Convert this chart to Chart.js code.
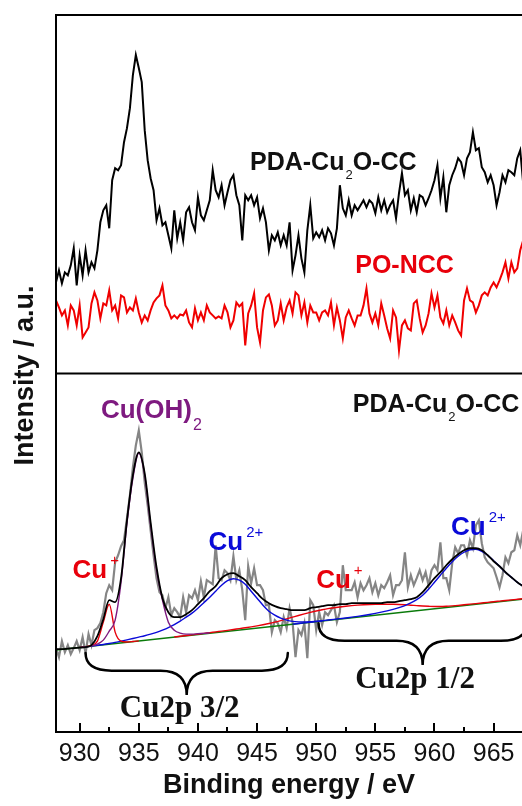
<!DOCTYPE html>
<html>
<head>
<meta charset="utf-8">
<title>Cu 2p XPS</title>
<script src="https://cdn.jsdelivr.net/npm/chart.js@4.4.1/dist/chart.umd.min.js"></script>
<style>
  html, body { margin: 0; padding: 0; background: #fff; overflow: hidden; }
  #wrap { position: relative; width: 522px; height: 806px; }
</style>
</head>
<body>
<div id="wrap"><canvas id="xpsChart" width="522" height="806"></canvas></div>
<script>
// binding energy of the raw scans (eV)
const scanEnergy = [
  928, 928.25, 928.5, 928.75, 929, 929.25, 929.5, 929.75,
  930, 930.25, 930.5, 930.75, 931, 931.25, 931.5, 931.75,
  932, 932.25, 932.5, 932.75, 933, 933.25, 933.5, 933.75,
  934, 934.25, 934.5, 934.75, 935, 935.25, 935.5, 935.75,
  936, 936.25, 936.5, 936.75, 937, 937.25, 937.5, 937.75,
  938, 938.25, 938.5, 938.75, 939, 939.25, 939.5, 939.75,
  940, 940.25, 940.5, 940.75, 941, 941.25, 941.5, 941.75,
  942, 942.25, 942.5, 942.75, 943, 943.25, 943.5, 943.75,
  944, 944.25, 944.5, 944.75, 945, 945.25, 945.5, 945.75,
  946, 946.25, 946.5, 946.75, 947, 947.25, 947.5, 947.75,
  948, 948.25, 948.5, 948.75, 949, 949.25, 949.5, 949.75,
  950, 950.25, 950.5, 950.75, 951, 951.25, 951.5, 951.75,
  952, 952.25, 952.5, 952.75, 953, 953.25, 953.5, 953.75,
  954, 954.25, 954.5, 954.75, 955, 955.25, 955.5, 955.75,
  956, 956.25, 956.5, 956.75, 957, 957.25, 957.5, 957.75,
  958, 958.25, 958.5, 958.75, 959, 959.25, 959.5, 959.75,
  960, 960.25, 960.5, 960.75, 961, 961.25, 961.5, 961.75,
  962, 962.25, 962.5, 962.75, 963, 963.25, 963.5, 963.75,
  964, 964.25, 964.5, 964.75, 965, 965.25, 965.5, 965.75,
  966, 966.25, 966.5, 966.75, 967, 967.25, 967.5
];

// upper panel: PDA-Cu2O-CC and PO-NCC scans (a.u.)
const pdaCu2oScan = [
  91, 103, 90, 101, 98, 108, 125, 88,
  118, 98, 123, 101, 111, 105, 123, 151,
  163, 168, 145, 193, 205, 203, 208, 231,
  245, 265, 298, 318, 305, 291, 243, 213,
  195, 183, 153, 165, 148, 151, 138, 125,
  163, 135, 151, 133, 161, 166, 151, 143,
  176, 158, 153, 163, 173, 203, 183, 176,
  188, 168, 181, 193, 198, 178, 168, 133,
  178, 173, 178, 168, 176, 155, 165, 151,
  123, 138, 133, 141, 128, 138, 128, 151,
  103, 118, 138, 115, 101, 143, 168, 135,
  141, 136, 143, 133, 145, 140, 128, 145,
  188, 165, 158, 173, 158, 168, 163, 168,
  173, 166, 173, 170, 160, 176, 163, 173,
  161, 168, 173, 155, 180, 200, 178, 183,
  163, 175, 161, 178, 176, 168, 175, 183,
  193, 208, 175, 196, 161, 188, 198, 205,
  215, 211, 198, 215, 221, 241, 223, 225,
  206, 201, 191, 198, 188, 168, 181, 198,
  191, 203, 201, 198, 215, 223, 190
];
const poNccScan = [
  73, 66, 58, 63, 48, 68, 63, 48,
  68, 36, 41, 46, 70, 81, 73, 55,
  70, 68, 83, 63, 68, 55, 78, 76,
  61, 66, 63, 75, 61, 51, 58, 53,
  63, 71, 75, 78, 88, 68, 63, 55,
  58, 55, 59, 58, 63, 51, 46, 65,
  53, 61, 53, 68, 61, 58, 55, 57,
  55, 68, 61, 46, 53, 71, 67, 70,
  28, 60, 68, 80, 46, 31, 63, 76,
  79, 68, 48, 53, 70, 53, 66, 73,
  60, 81, 78, 58, 71, 51, 68, 61,
  61, 53, 61, 63, 58, 71, 48, 66,
  53, 35, 56, 63, 55, 48, 58, 58,
  68, 85, 60, 51, 60, 48, 70, 58,
  45, 35, 63, 56, 23, 48, 53, 45,
  43, 70, 73, 55, 41, 48, 60, 80,
  66, 78, 56, 50, 63, 48, 58, 51,
  43, 38, 73, 85, 73, 71, 61, 68,
  78, 81, 78, 86, 91, 86, 93, 101,
  111, 95, 111, 101, 105, 123, 133
];

// lower panel: measured PDA-Cu2O-CC scan used for the fit
const fitScan = [
  84, 75, 91, 80, 87, 78, 84, 91,
  82, 95, 79, 98, 87, 102, 104, 109,
  120, 139, 147, 142, 170, 177, 186, 192,
  214, 237, 265, 287, 302, 280, 250, 227,
  202, 177, 154, 140, 137, 124, 135, 117,
  124, 120, 115, 135, 120, 137, 134, 142,
  132, 151, 135, 152, 150, 148, 187, 154,
  152, 162, 159, 152, 176, 152, 162, 142,
  112, 166, 149, 164, 147, 147, 142, 127,
  127, 100, 112, 109, 100, 115, 104, 124,
  110, 75, 102, 97, 109, 74, 132, 127,
  102, 120, 107, 120, 117, 122, 127, 110,
  120, 167, 142, 142, 142, 150, 135, 149,
  142, 147, 154, 140, 149, 137, 147, 144,
  150, 157, 137, 147, 147, 152, 180, 145,
  157, 147, 154, 162, 152, 160, 147, 162,
  167, 162, 190, 154, 154, 142, 169, 185,
  179, 187, 187, 177, 192, 184, 207, 212,
  189, 175, 170, 167, 164, 155, 145, 157,
  175, 169, 180, 182, 197, 187, 202
];

// peak fit, sampled every 0.5 eV
const fitEnergy = [
  928, 928.5, 929, 929.5, 930, 930.5, 931, 931.5,
  932, 932.5, 933, 933.5, 934, 934.5, 935, 935.5,
  936, 936.5, 937, 937.5, 938, 938.5, 939, 939.5,
  940, 940.5, 941, 941.5, 942, 942.5, 943, 943.5,
  944, 944.5, 945, 945.5, 946, 946.5, 947, 947.5,
  948, 948.5, 949, 949.5, 950, 950.5, 951, 951.5,
  952, 952.5, 953, 953.5, 954, 954.5, 955, 955.5,
  956, 956.5, 957, 957.5, 958, 958.5, 959, 959.5,
  960, 960.5, 961, 961.5, 962, 962.5, 963, 963.5,
  964, 964.5, 965, 965.5, 966, 966.5, 967, 967.5
];
const fitEnvelope = [
  83, 83, 83.5, 84, 84.5, 85, 87, 96,
  113, 132, 130, 154, 212, 257, 280, 259,
  210, 165, 134, 120, 115, 115, 118, 122,
  128, 134, 141, 146, 154, 158, 159, 156,
  152, 145, 139, 133, 129, 126, 124, 123,
  122, 122, 122, 124, 125, 126, 127, 127,
  128, 128, 129, 129, 129, 129, 129, 129,
  130, 130, 131, 132, 133, 135, 140, 147,
  154, 160, 167, 173, 178, 182, 184, 184,
  182, 177, 171, 166, 160, 155, 150, 146
];
// each component: first energy on the fit grid, then its values
const cuOH2Start = 930;
const cuOH2Peak = [84.7, 85.3, 86.2, 88, 92, 101, 112, 150, 209, 254, 279, 257,
  207, 162, 132, 110, 102, 99, 98, 98, 98.5, 98.8, 99.3];
const cuI32Start = 930;
const cuI32Peak = [84.7, 85.5, 86.8, 91, 110, 128, 100, 91, 90.2, 90.6, 91.2];
const cuII32Start = 930.5;
const cuII32Peak = [85.3, 86, 86.8, 87.6, 88.6, 89.7, 91, 92.3, 93.6, 95,
  96.4, 98, 99.8, 102, 104.5, 107.5, 111, 115, 119, 124,
  129.5, 135, 141, 147, 151.5, 153.5, 152, 148, 141, 134,
  127, 121, 117, 114, 112, 110.8, 110.3, 110.2, 110.4, 110.8, 111.2];
const cuI12Start = 938;
const cuI12Peak = [95.2, 95.9, 96.6, 97.3, 98, 98.8, 99.5, 100.3, 101, 101.8,
  102.7, 103.5, 104.4, 105.3, 106.3, 107.4, 108.6, 110, 111.6, 113.3,
  115, 116.7, 118.3, 119.8, 121.2, 122.4, 123.5, 124.4, 125.2, 125.9,
  126.5, 127, 127.4, 127.7, 127.9, 128, 128, 127.9, 127.7, 127.4,
  127, 126.6, 126.2, 125.9, 125.7, 125.7, 125.9, 126.3, 126.8, 127.4,
  128, 128.6, 129.2, 129.8, 130.5, 131.1, 131.7, 132.3, 132.9, 133.5];
const cuII12Start = 948;
const cuII12Peak = [108, 108.6, 109.3, 110, 110.7, 111.4, 112.1, 112.8, 113.5, 114.2,
  115, 115.8, 116.7, 117.7, 118.8, 120, 121.3, 122.8, 124.5, 126.6,
  129.2, 132.5, 137, 143, 150, 157, 164, 170.5, 176, 180,
  182.5, 183, 181, 177, 171.5, 166, 160, 155, 150, 146];
const baselineEnergy = [928, 967.5];
const baselineFit = [82, 133];

const majorTicks = [930, 935, 940, 945, 950, 955, 960, 965];
const minorTicks = [932.5, 937.5, 942.5, 947.5, 952.5, 957.5, 962.5];

const SANS = '"Liberation Sans", Arial, sans-serif';
const SERIF = '"Liberation Serif", "Times New Roman", serif';
const RED = '#e8000b';
const BLUE = '#0a0ad8';
const PURPLE = '#7e1a80';

const toPoints = (xs, ys) => ys.map((y, i) => ({ x: xs[i], y }));
const onFitGrid = (start, ys) => {
  const i0 = fitEnergy.indexOf(start);
  return ys.map((y, i) => ({ x: fitEnergy[i0 + i], y }));
};

function trace(data, color, width, axis, smooth) {
  return {
    data, yAxisID: axis, showLine: true,
    borderColor: color, borderWidth: width,
    pointRadius: 0, fill: false,
    cubicInterpolationMode: smooth ? 'monotone' : 'default', tension: 0
  };
}

// first dataset is painted last (on top)
const datasets = [
  trace(onFitGrid(928, fitEnvelope), '#000', 1.8, 'yLower', true),
  trace(onFitGrid(cuOH2Start, cuOH2Peak), PURPLE, 1.4, 'yLower', true),
  trace(onFitGrid(cuI32Start, cuI32Peak), RED, 1.4, 'yLower', true),
  trace(onFitGrid(cuII32Start, cuII32Peak), BLUE, 1.4, 'yLower', true),
  trace(onFitGrid(cuII12Start, cuII12Peak), BLUE, 1.4, 'yLower', true),
  trace(onFitGrid(cuI12Start, cuI12Peak), RED, 1.4, 'yLower', true),
  trace(toPoints(baselineEnergy, baselineFit), '#0a7a0a', 1.5, 'yLower', false),
  trace(toPoints(scanEnergy, fitScan), '#858585', 2.2, 'yLower', false),
  trace(toPoints(scanEnergy, pdaCu2oScan), '#000', 2, 'yUpper', false),
  trace(toPoints(scanEnergy, poNccScan), '#f00000', 2, 'yUpper', false)
];

// text drawn inside the panels: [axis, energy, intensity, colour, pieces]
// piece = [text, kind] with kind main / sub / sup / serif
const panelLabels = [
  ['yUpper', 944.4, 203, '#111', [['PDA-Cu', 'main'], ['2', 'sub'], ['O-CC', 'main']]],
  ['yUpper', 953.3, 100, RED, [['PO-NCC', 'main']]],
  ['yLower', 953.1, 320, '#111', [['PDA-Cu', 'main'], ['2', 'sub'], ['O-CC', 'main']]],
  ['yLower', 931.8, 314, PURPLE, [['Cu(OH)', 'cu'], ['2', 'sub2']]],
  ['yLower', 929.4, 154, RED, [['Cu', 'cu'], ['+', 'sup']]],
  ['yLower', 940.9, 182, BLUE, [['Cu', 'cu'], ['2+', 'sup']]],
  ['yLower', 950.0, 144, RED, [['Cu', 'cu'], ['+', 'sup']]],
  ['yLower', 961.4, 197, BLUE, [['Cu', 'cu'], ['2+', 'sup']]],
  ['yLower', 933.4, 15, '#111', [['Cu2p 3/2', 'serif']]],
  ['yLower', 953.3, 44, '#111', [['Cu2p 1/2', 'serif']]]
];
const pieceStyle = {
  main: { font: 'bold 25px ' + SANS, dx: 0, dy: 0 },
  sub: { font: '13px ' + SANS, dx: 1, dy: 9 },
  cu: { font: 'bold 26px ' + SANS, dx: 0, dy: 0 },
  sub2: { font: '16px ' + SANS, dx: 1, dy: 12 },
  sup: { font: '15px ' + SANS, dx: 3, dy: -13 },
  serif: { font: 'bold 31px ' + SERIF, dx: 0, dy: 0 }
};

// braces under the spin-orbit groups: [energy from, energy to, top, tip]
const braces = [
  [930.5, 947.6, 79, 37],
  [950.2, 967.8, 109, 67]
];

function drawBrace(ctx, x1, x2, yTop, yTip) {
  const mid = (x1 + x2) / 2;
  const arm = yTop + (yTip - yTop) * 0.42;
  const r = 26;
  ctx.beginPath();
  ctx.moveTo(x1, yTop);
  ctx.quadraticCurveTo(x1, arm, x1 + r, arm);
  ctx.lineTo(mid - r, arm);
  ctx.quadraticCurveTo(mid, arm, mid, yTip);
  ctx.quadraticCurveTo(mid, arm, mid + r, arm);
  ctx.lineTo(x2 - r, arm);
  ctx.quadraticCurveTo(x2, arm, x2, yTop);
  ctx.stroke();
}

const panelDecor = {
  id: 'panelDecor',
  afterDatasetsDraw(chart) {
    const { ctx, chartArea: area, scales } = chart;
    const xs = scales.x;
    const split = scales.yUpper.bottom;
    ctx.save();

    // frame and panel divider
    ctx.strokeStyle = '#000';
    ctx.lineWidth = 2;
    ctx.beginPath();
    ctx.moveTo(area.left - 1, area.top); ctx.lineTo(area.right + 4, area.top);
    ctx.moveTo(area.left, split); ctx.lineTo(area.right + 4, split);
    ctx.moveTo(area.left - 1, area.bottom); ctx.lineTo(area.right + 4, area.bottom);
    ctx.moveTo(area.left, area.top); ctx.lineTo(area.left, area.bottom);
    ctx.stroke();

    // inward ticks along the energy axis
    ctx.beginPath();
    majorTicks.forEach(e => {
      const px = Math.round(xs.getPixelForValue(e));
      ctx.moveTo(px, area.bottom); ctx.lineTo(px, area.bottom - 9);
    });
    minorTicks.forEach(e => {
      const px = Math.round(xs.getPixelForValue(e));
      ctx.moveTo(px, area.bottom); ctx.lineTo(px, area.bottom - 5);
    });
    ctx.stroke();

    // braces
    ctx.lineWidth = 2.5;
    ctx.lineCap = 'round';
    braces.forEach(([e1, e2, top, tip]) => {
      const ys = scales.yLower;
      drawBrace(ctx, xs.getPixelForValue(e1), xs.getPixelForValue(e2),
        ys.getPixelForValue(top), ys.getPixelForValue(tip));
    });

    // labels inside the panels
    ctx.textBaseline = 'alphabetic';
    ctx.textAlign = 'left';
    panelLabels.forEach(([axis, e, v, color, pieces]) => {
      let x = xs.getPixelForValue(e);
      const y = scales[axis].getPixelForValue(v);
      ctx.fillStyle = color;
      pieces.forEach(([text, kind]) => {
        const st = pieceStyle[kind];
        ctx.font = st.font;
        x += st.dx;
        ctx.fillText(text, x, y + st.dy);
        x += ctx.measureText(text).width;
      });
    });

    // shared intensity title across both panels
    ctx.save();
    ctx.translate(33, (area.top + area.bottom) / 2 + 2);
    ctx.rotate(-Math.PI / 2);
    ctx.textAlign = 'center';
    ctx.fillStyle = '#111';
    ctx.font = 'bold 27px ' + SANS;
    ctx.fillText('Intensity / a.u.', 0, 0);
    ctx.restore();

    ctx.restore();
  }
};

const hiddenY = (min, max) => ({
  type: 'linear', position: 'left', stack: 'panels', stackWeight: 1,
  min, max,
  ticks: { display: false },
  grid: { display: false },
  border: { display: false },
  afterFit: axis => { axis.width = 0; }
});

new Chart(document.getElementById('xpsChart'), {
  type: 'scatter',
  data: { datasets },
  options: {
    responsive: false,
    animation: false,
    devicePixelRatio: 1,
    layout: { padding: { left: 56, top: 15, right: 0, bottom: 0 } },
    plugins: { legend: { display: false }, tooltip: { enabled: false } },
    scales: {
      x: {
        type: 'linear', position: 'bottom', min: 928, max: 967.4,
        afterBuildTicks: axis => { axis.ticks = majorTicks.map(value => ({ value })); },
        afterFit: axis => { axis.height = 74; },
        grid: { display: false },
        border: { display: false },
        ticks: {
          autoSkip: false, maxRotation: 0, padding: -1,
          color: '#111', font: { family: SANS, size: 25 }
        },
        title: {
          display: true, text: 'Binding energy / eV', color: '#111',
          font: { family: SANS, size: 27, weight: 'bold' },
          padding: { top: 0, bottom: 4 }
        }
      },
      yLower: hiddenY(0, 359),
      yUpper: hiddenY(0, 358)
    }
  },
  plugins: [panelDecor]
});
</script>
</body>
</html>
